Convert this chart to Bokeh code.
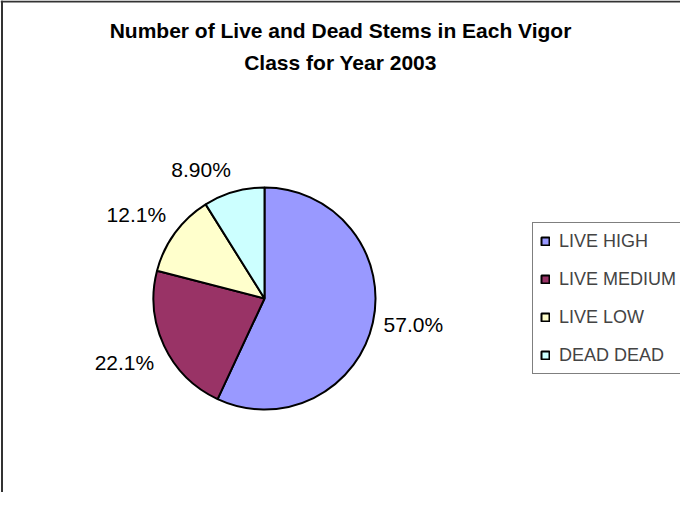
import math
from bokeh.plotting import figure
from bokeh.models import Range1d, Span, Legend, LegendItem, ColumnDataSource
from bokeh.core.properties import value
from bokeh.embed import file_html
from bokeh.resources import INLINE

# ---- data ----
categories = ["LIVE HIGH", "LIVE MEDIUM", "LIVE LOW", "DEAD DEAD"]
percents = [57.0, 22.1, 12.1, 8.90]
label_texts = ["57.0%", "22.1%", "12.1%", "8.90%"]
colors = ["#9999FF", "#993366", "#FFFFCC", "#CCFFFF"]
title_lines = ["Number of Live and Dead Stems in Each Vigor", "Class for Year 2003"]

# ---- layout ----
W, H = 680, 492
CX, CY = 264, H - 298
R = 111
GAP = 11
FONT = "Liberation Sans"

p = figure(width=W, height=H, output_backend="svg", toolbar_location=None,
           x_range=Range1d(0, W), y_range=Range1d(0, H),
           x_axis_location=None, y_axis_location=None,
           min_border=0, min_border_left=0, min_border_right=0,
           min_border_top=0, min_border_bottom=0,
           outline_line_color=None, background_fill_color="white",
           border_fill_color="white")
p.grid.visible = False

total = sum(percents)
starts, ends = [], []
cum = 0.0
for v in percents:
    a0 = math.pi / 2 - 2 * math.pi * cum / total
    cum += v
    a1 = math.pi / 2 - 2 * math.pi * cum / total
    starts.append(a1)
    ends.append(a0)

src = ColumnDataSource(dict(cat=categories, start=starts, end=ends, color=colors,
                            x=[CX] * len(percents), y=[CY] * len(percents)))
wr = p.wedge(x="x", y="y", radius=R, radius_units="screen",
             start_angle="start", end_angle="end",
             fill_color="color", line_color="black", line_width=2, source=src)

# data labels
for txt, s, e in zip(label_texts, starts, ends):
    mid = (s + e) / 2
    ux, uy = math.cos(mid), math.sin(mid)
    lx = CX + (R + GAP) * ux
    ly = CY + (R + GAP) * uy
    align = "left" if ux > 0 else "right"
    if abs(uy) < 0.3:
        base = "middle"
    elif uy > 0:
        base = "bottom"
    else:
        base = "top"
    p.text(x=[lx], y=[ly], text=[txt], text_font=value(FONT), text_font_size="21px",
           text_align=align, text_baseline=base, text_color="black")

# title
for i, line in enumerate(title_lines):
    p.text(x=[340], y=[H - 30 - 32 * i], text=[line], text_font=value(FONT),
           text_font_style="bold", text_font_size="21px",
           text_align="center", text_baseline="middle", text_color="black")

# legend
items = [LegendItem(label=c, renderers=[wr], index=i) for i, c in enumerate(categories)]
legend = Legend(items=items, location=(532, 118), padding=7, spacing=16,
                label_height=22, glyph_height=10, glyph_width=10, label_standoff=9,
                label_text_font=FONT, label_text_font_size="18px",
                border_line_color="black", border_line_width=1,
                background_fill_color="white", background_fill_alpha=1, margin=0)
p.add_layout(legend)

# chart area border (left and top visible)
p.add_layout(Span(location=1.5, dimension="height", line_color="#333333", line_width=2))
p.add_layout(Span(location=H - 1, dimension="width", line_color="#333333", line_width=2))

open("out.html", "w").write(file_html(p, INLINE))
